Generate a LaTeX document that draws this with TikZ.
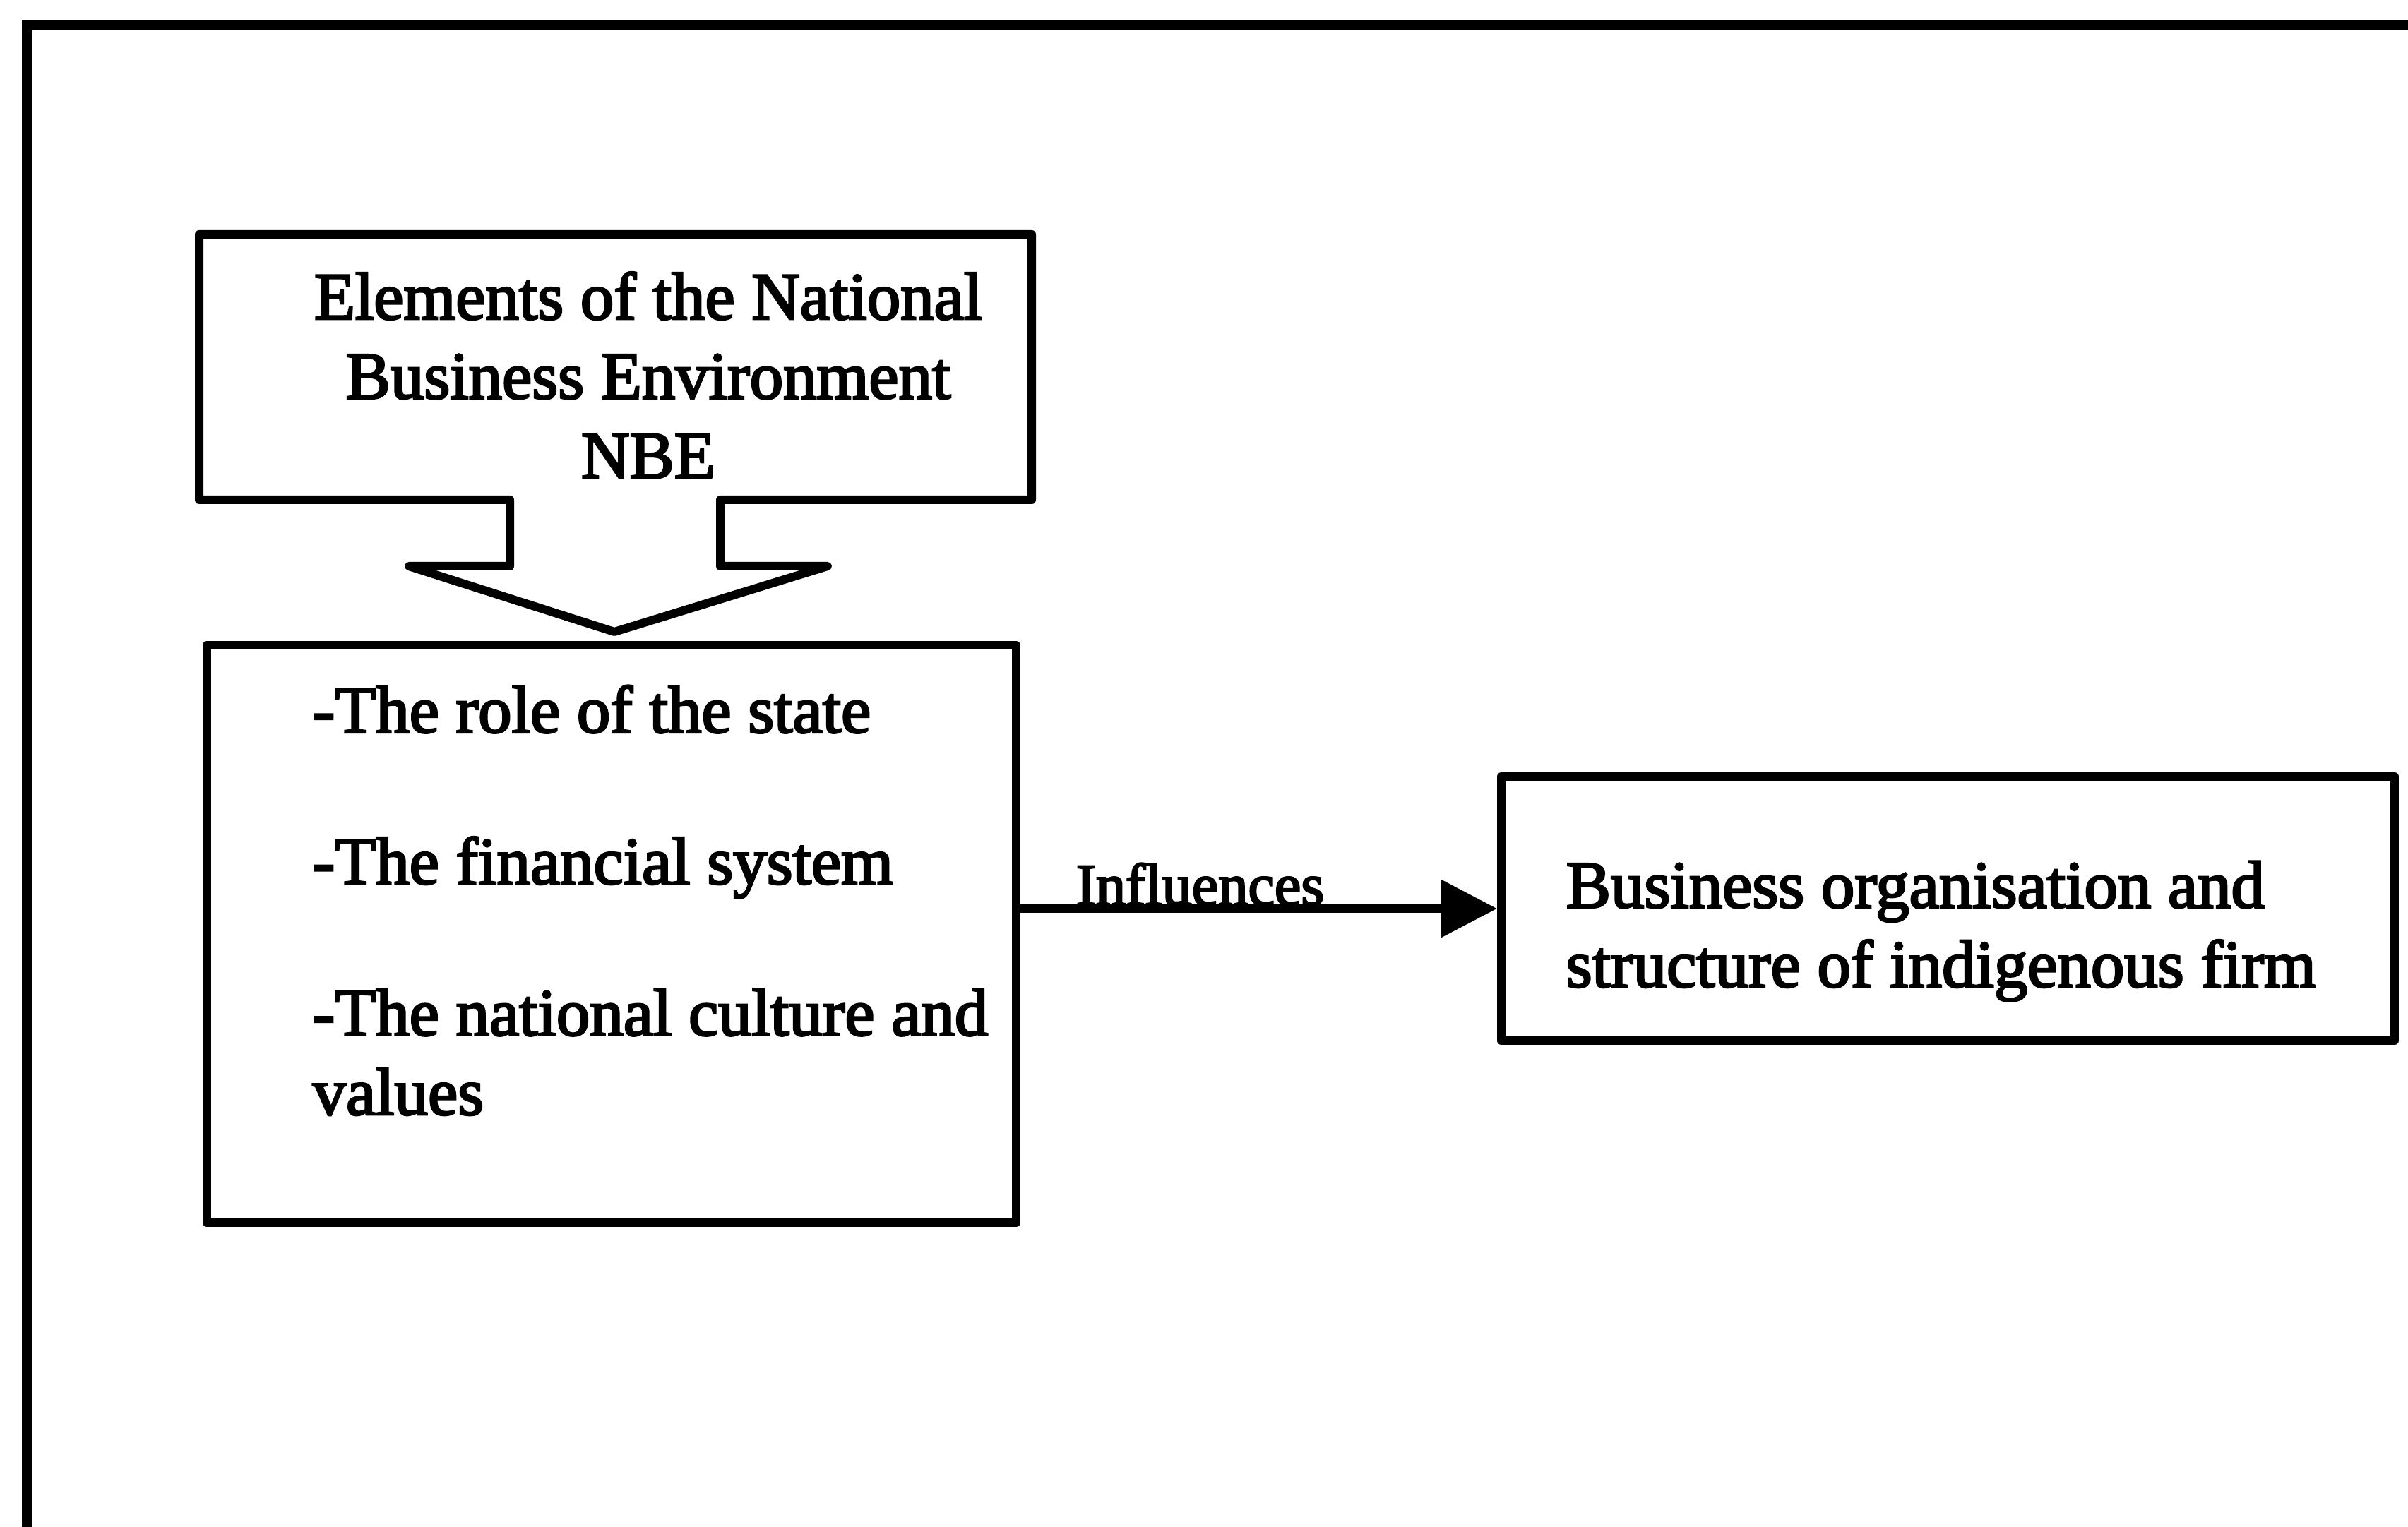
\documentclass[tikz,border=0pt]{standalone}
\usepackage{fontspec}
\setmainfont{Liberation Serif}[RawFeature={embolden=3}]
\usetikzlibrary{arrows.meta, calc, positioning}

\begin{document}
\begin{tikzpicture}[
  every node/.style={font=\fontsize{27}{32}\selectfont, text=black},
  boxline/.style={draw=black, line width=0.12cm, line join=round},
  textblock/.style={inner sep=0pt, align=left, anchor=base west},
  flow/.style={-{Triangle[length=0.8cm, width=0.8cm]}, line width=0.12cm},
  flowlabel/.style={font=\fontsize{24}{28}\selectfont, inner sep=0pt}
]
\useasboundingbox (0,0) rectangle (34.1,-21.63);

% outer frame (open at right and bottom)
\draw[line width=0.14cm] (0.38,-22) -- (0.38,-0.35) -- (34.6,-0.35);

% NBE callout box with its down arrow
\draw[boxline]
  (7.22,-7.08) -- (2.82,-7.08) -- (2.82,-3.32) -- (14.61,-3.32)
  -- (14.61,-7.08) -- (10.20,-7.08) -- (10.20,-8.02) -- (11.72,-8.02)
  -- (8.70,-8.95) -- (5.79,-8.02) -- (7.22,-8.02) -- cycle;
\node[inner sep=0pt, align=center, anchor=base] (nbetext) at (9.18,-6.77)
  {Elements of the National\\Business Environment\\NBE};

% elements box
\node[boxline, minimum width=11.46cm, minimum height=8.18cm,
  anchor=north west] (items) at (2.87,-9.08) {};
\node[textblock] (itemtext) at (4.42,-15.79)
  {-The role of the state\\[1.02cm]
   -The financial system\\[1.02cm]
   -The national culture and\\values};

% outcome box
\node[boxline, minimum width=12.65cm, minimum height=3.74cm,
  anchor=north west] (firm) at (21.20,-10.94) {};
\node[textblock] (firmtext) at (22.17,-13.98)
  {Business organisation and\\structure of indigenous firm};

% influence arrow
\draw[flow] (items.east |- firm.west) -- (firm.west)
  node[flowlabel, pos=0.377, anchor=base, yshift=0.05cm] (inflabel) {Influences};

\end{tikzpicture}
\end{document}
